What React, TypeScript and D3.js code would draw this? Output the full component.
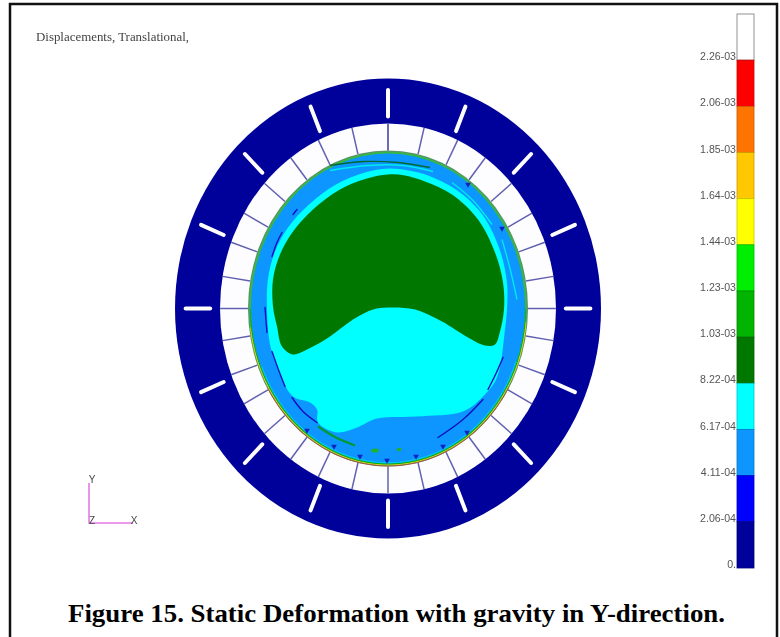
import React from "react";
import * as d3 from "d3";

// Contour legend, top to bottom
const legendColors = ["#ffffff","#ff0000","#ff7300","#ffc800","#ffff00","#00ee00","#00b400","#007800","#00ffff","#0a96ff","#0000ff","#00009b"];
const legendLabels = ["2.26-03","2.06-03","1.85-03","1.64-03","1.44-03","1.23-03","1.03-03","8.22-04","6.17-04","4.11-04","2.06-04","0."];

// Model-space contours (model units, origin at the bore centre, y up)
const greenContour: [number, number][] = [[0,134],[17,133],[37,127],[64,114],[90,89],[107,56],[115,26],[116,-1],[112,-23],[107,-36],[97,-37],[80,-29],[54,-13],[27,-1],[0,1],[-15,-1],[-35,-11],[-58,-28],[-81,-41],[-95,-46],[-106,-38],[-111,-18],[-115,2],[-115,29],[-108,54],[-95,77],[-75,99],[-48,119],[-21,130]];
const cyanContour: [number, number][] = [[0,140],[21,138],[40,133],[68,119],[95,93],[112,58],[119,26],[119,-1],[117,-21],[109,-69],[95,-88],[75,-103],[29,-108],[-11,-110],[-31,-119],[-51,-124],[-70,-114],[-71,-101],[-78,-94],[-95,-88],[-108,-66],[-118,-36],[-121,-1],[-120,30],[-113,57],[-100,81],[-79,104],[-52,124],[-23,136]];

// Thin streaks in the blue band
const darkBlueStreaks: [number, number][][] = [
  [[-123,1],[-122,-12],[-121,-24]],
  [[-116,-43],[-110,-60],[-103,-78]],
  [[-96,-89],[-85,-103],[-71,-114]],
  [[115,-49],[108,-65],[100,-81]],
  [[95,-91],[75,-111],[50,-129]],
  [[-116,52],[-111,66],[-106,76]],
  [[-95,94],[-91,99]],
];
const greenStreaks: [number, number][][] = [
  [[-70,-118],[-52,-129],[-33,-137]],
  [[-58,143],[-25,147],[10,146],[42,141]],
];
const cyanStreaks: [number, number][][] = [
  [[64,126],[85,108],[104,84]],
  [[114,69],[122,40],[129,9]],
  [[-58,138],[-20,143],[15,143],[45,137]],
];
const greenSpots: [number, number, number, number][] = [[-13,-142,4,2],[11,-141,2.5,1.8]];
const spokeTips: [number, number][] = [[-81,-122],[-54,-138],[-28,-148],[-1,-152],[28,-148],[55,-138],[79,-124],[80,124],[114,80]];

// Structure
const spokeAngles = [0,12.4,24.5,35.4,47.4,59,69,80,90];
const dashAngles = d3.range(16).map((i) => i * 22.5);
const shellRx = 213, shellRy = 230, ringRx = 168, ringRy = 185, boreRx = 140, boreRy = 158;

const xS = d3.scaleLinear().domain([-213, 213]).range([175, 601]);
const yS = d3.scaleLinear().domain([-230, 230]).range([538.5, 78.5]);
const legendY = d3.scaleBand<string>().domain(legendLabels).range([14, 568]);

const contour = d3.line<[number, number]>().x((d) => xS(d[0])).y((d) => yS(d[1])).curve(d3.curveCatmullRomClosed);
const streak = d3.line<[number, number]>().x((d) => xS(d[0])).y((d) => yS(d[1])).curve(d3.curveCatmullRom);

function ell(rx: number, ry: number, fill: string) {
  return <ellipse cx={xS(0)} cy={yS(0)} rx={xS(rx) - xS(0)} ry={yS(0) - yS(ry)} fill={fill} />;
}
function arc(rx: number, ry: number, t0: number, t1: number) {
  const pts = d3.range(t0, t1 + 0.01, 3).map((t) => {
    const a = (t * Math.PI) / 180;
    return [rx * Math.sin(a), ry * Math.cos(a)] as [number, number];
  });
  return streak(pts) as string;
}
function radial(t: number, f0: number, f1: number, rx0: number, ry0: number, rx1: number, ry1: number) {
  const a = (t * Math.PI) / 180;
  return {
    x1: xS(rx0 * f0 * Math.sin(a)), y1: yS(ry0 * f0 * Math.cos(a)),
    x2: xS(rx1 * f1 * Math.sin(a)), y2: yS(ry1 * f1 * Math.cos(a)),
  };
}
const allSpokes = Array.from(new Set(spokeAngles.flatMap((a) => [a, 180 - a, 180 + a, 360 - a])));

export default function App() {
  const triangle = d3.symbol(d3.symbolTriangle, 14)() as string;
  return (
    <svg width={780} height={637} style={{ position: "absolute", left: 0, top: 0, background: "#fff" }}>
      <defs>
        <filter id="soft" x="-5%" y="-5%" width="110%" height="110%"><feGaussianBlur stdDeviation="0.45" /></filter>
        <filter id="softText" x="-5%" y="-20%" width="110%" height="140%"><feGaussianBlur stdDeviation="0.4" /></filter>
      </defs>
      <path d="M10 637V4H777V637" fill="none" stroke="#111" strokeWidth={2.5} />

      <g filter="url(#soft)">
        {ell(shellRx, shellRy, "#00009b")}
        {ell(ringRx, ringRy, "#fdfdff")}
        {dashAngles.map((t) => {
          const l = radial(t, 0.835, 0.95, shellRx, shellRy, shellRx, shellRy);
          return <line key={t} {...l} stroke="#fff" strokeWidth={4} strokeLinecap="round" />;
        })}
        {allSpokes.map((t) => (
          <line key={t} {...radial(t, 1, 1, boreRx, boreRy, ringRx, ringRy)} stroke="#6060b0" strokeWidth={1.5} />
        ))}
        {ell(boreRx, boreRy, "#5c8f6c")}
        {ell(boreRx - 1, boreRy - 1, "#39b54a")}
        <path d={arc(boreRx - 1.5, boreRy - 1.5, 95, 265)} fill="none" stroke="#e0d020" strokeWidth={1} />
        <path d={arc(boreRx - 0.5, boreRy - 0.5, 120, 240)} fill="none" stroke="#b04a30" strokeWidth={0.8} />
        <path d={arc(boreRx - 2.6, boreRy - 2.6, 90, 270)} fill="none" stroke="#00b400" strokeWidth={1} />
        {ell(boreRx - 3, boreRy - 3, "#0a96ff")}
        <path d={arc(boreRx - 3.8, boreRy - 3.8, 110, 250)} fill="none" stroke="#00e0e0" strokeWidth={0.8} />
        <path d={contour(cyanContour) as string} fill="#00ffff" />
        <path d={contour(greenContour) as string} fill="#007800" />
        {cyanStreaks.map((s, i) => <path key={i} d={streak(s) as string} fill="none" stroke="#00e8f0" strokeWidth={1.4} />)}
        {greenStreaks.map((s, i) => <path key={i} d={streak(s) as string} fill="none" stroke={i === 0 ? "#009a30" : "#006a30"} strokeWidth={i === 0 ? 2.2 : 1.3} />)}
        {darkBlueStreaks.map((s, i) => <path key={i} d={streak(s) as string} fill="none" stroke="#0a10c0" strokeWidth={1.4} strokeLinecap="round" />)}
        {greenSpots.map((s, i) => <ellipse key={i} cx={xS(s[0])} cy={yS(s[1])} rx={s[2]} ry={s[3]} fill="#22b030" />)}
        {spokeTips.map((p, i) => (
          <path key={i} d={triangle} transform={`translate(${xS(p[0])},${yS(p[1])}) rotate(180)`} fill="#1020c0" />
        ))}
      </g>

      <g filter="url(#softText)">
        {legendLabels.map((lab, i) => (
          <rect key={lab} x={737} width={17} y={legendY(lab)} height={legendY.bandwidth()} fill={legendColors[i]} stroke={i === 0 ? "#777" : d3.color(legendColors[i])!.darker(0.7).toString()} strokeWidth={0.8} />
        ))}
        {legendLabels.map((lab) => (
          <text key={lab} x={736} y={(legendY(lab) as number) + legendY.bandwidth()} textAnchor="end" fontFamily="Liberation Sans" fontSize={10.6} fill="#555">{lab}</text>
        ))}
        <text x={36} y={41} fontFamily="Liberation Serif" fontSize={11.5} textLength={153} lengthAdjust="spacingAndGlyphs" fill="#444">Displacements, Translational,</text>
        <path d="M89 483V523H133" fill="none" stroke="#e878e8" strokeWidth={1.6} />
        <text x={92} y={483} textAnchor="middle" fontFamily="Liberation Sans" fontSize={10} fill="#444">Y</text>
        <text x={92} y={524} textAnchor="middle" fontFamily="Liberation Sans" fontSize={10} fill="#444">Z</text>
        <text x={134} y={524} textAnchor="middle" fontFamily="Liberation Sans" fontSize={10} fill="#444">X</text>
      </g>

      <text x={396.5} y={622} textAnchor="middle" fontFamily="Liberation Serif" fontWeight="bold" fontSize={26} textLength={657} lengthAdjust="spacingAndGlyphs" fill="#000">Figure 15. Static Deformation with gravity in Y-direction.</text>
    </svg>
  );
}
